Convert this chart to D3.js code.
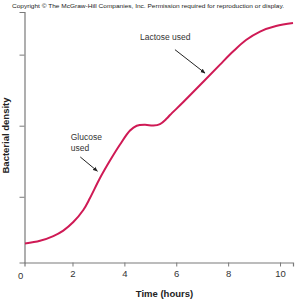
<!DOCTYPE html>
<html><head><meta charset="utf-8">
<script src="https://cdn.jsdelivr.net/npm/d3@7"></script>
<style>body{margin:0;background:#fff}svg{display:block;font-family:"Liberation Sans",Arial,sans-serif}</style>
</head><body><svg id="c" width="296" height="300"></svg>
<script>
const hours   = [0.170, 0.748, 1.261, 1.646, 2.032, 2.417, 2.675, 3.061, 3.446, 3.832, 4.218, 4.476, 4.796, 5.116, 5.374, 5.632, 5.759, 6.272, 7.032, 7.687, 8.188, 8.689, 9.229, 9.846, 10.5];
const density = [0.344, 0.381, 0.447, 0.524, 0.644, 0.813, 0.982, 1.263, 1.509, 1.735, 1.932, 1.999, 2.012, 2.002, 2.023, 2.100, 2.150, 2.333, 2.614, 2.860, 3.043, 3.205, 3.325, 3.402, 3.444];
const xTicks = [2, 4, 6, 8, 10];
const yTicks = [1, 2, 3];
const annotations = [
  {lines: ["Glucose", "used"], at: [1.93, 1.80], from: [2.30, 1.56], to: [2.96, 1.36]},
  {lines: ["Lactose used"], at: [4.60, 3.21], from: [5.95, 3.07], to: [7.11, 2.74]}
];

const svg = d3.select("#c");
const x = d3.scaleLinear().domain([0.15, 10.5]).range([24.5, 293]);
const y = d3.scaleLinear().domain([0.075, 3.6]).range([262.5, 12]);
const axisColor = "#7a7a7a";

svg.append("text").attr("x", 148).attr("y", 7.5).attr("text-anchor", "middle")
  .attr("font-size", 6).attr("fill", "#222")
  .attr("textLength", 272).attr("lengthAdjust", "spacingAndGlyphs")
  .text("Copyright \u00A9 The McGraw-Hill Companies, Inc. Permission required for reproduction or display.");

const xa = svg.append("g").attr("transform", `translate(0,${y.range()[0]})`)
  .call(d3.axisBottom(x).tickValues(xTicks).tickSizeOuter(0).tickSize(4).tickPadding(4).tickFormat(d3.format("d")));
const ya = svg.append("g").attr("transform", `translate(${x.range()[0]},0)`)
  .call(d3.axisLeft(y).tickValues(yTicks).tickSizeOuter(0).tickSize(5).tickFormat(""));
[xa, ya].forEach(g => {
  g.select(".domain").attr("stroke", axisColor).attr("stroke-width", 1.2);
  g.selectAll(".tick line").attr("stroke", axisColor);
  g.selectAll(".tick text").attr("fill", "#333").attr("font-size", 9.5).attr("font-family", "Liberation Sans, Arial, sans-serif");
});
svg.append("text").attr("x", x(0)).attr("y", 278.5).attr("text-anchor", "middle")
  .attr("font-size", 9.5).attr("fill", "#333").text("0");

svg.append("text").attr("x", 164.5).attr("y", 296.5).attr("text-anchor", "middle")
  .attr("font-size", 9.5).attr("font-weight", "bold").attr("fill", "#222").text("Time (hours)");
svg.append("text").attr("transform", "translate(8.5,135.5) rotate(-90)").attr("text-anchor", "middle")
  .attr("font-size", 9.5).attr("font-weight", "bold").attr("fill", "#222").text("Bacterial density");

const line = d3.line().x((d, i) => x(hours[i])).y(d => y(d)).curve(d3.curveCatmullRom.alpha(0.5));
svg.append("path").datum(density).attr("d", line).attr("fill", "none")
  .attr("stroke", "#cf1a55").attr("stroke-width", 2);

svg.append("defs").append("marker").attr("id", "ah").attr("viewBox", "0 0 10 10")
  .attr("refX", 9).attr("refY", 5).attr("markerWidth", 5).attr("markerHeight", 5)
  .attr("markerUnits", "userSpaceOnUse")
  .attr("orient", "auto").append("path").attr("d", "M0,1L10,5L0,9Z").attr("fill", "#222");

annotations.forEach(a => {
  const t = svg.append("text").attr("x", x(a.at[0])).attr("y", y(a.at[1]))
    .attr("font-size", 8.5).attr("fill", "#333");
  a.lines.forEach((l, i) => t.append("tspan").attr("x", x(a.at[0])).attr("dy", i ? 11 : 0).text(l));
  svg.append("line").attr("x1", x(a.from[0])).attr("y1", y(a.from[1]))
    .attr("x2", x(a.to[0])).attr("y2", y(a.to[1]))
    .attr("stroke", "#222").attr("stroke-width", 1).attr("marker-end", "url(#ah)");
});
</script></body></html>
